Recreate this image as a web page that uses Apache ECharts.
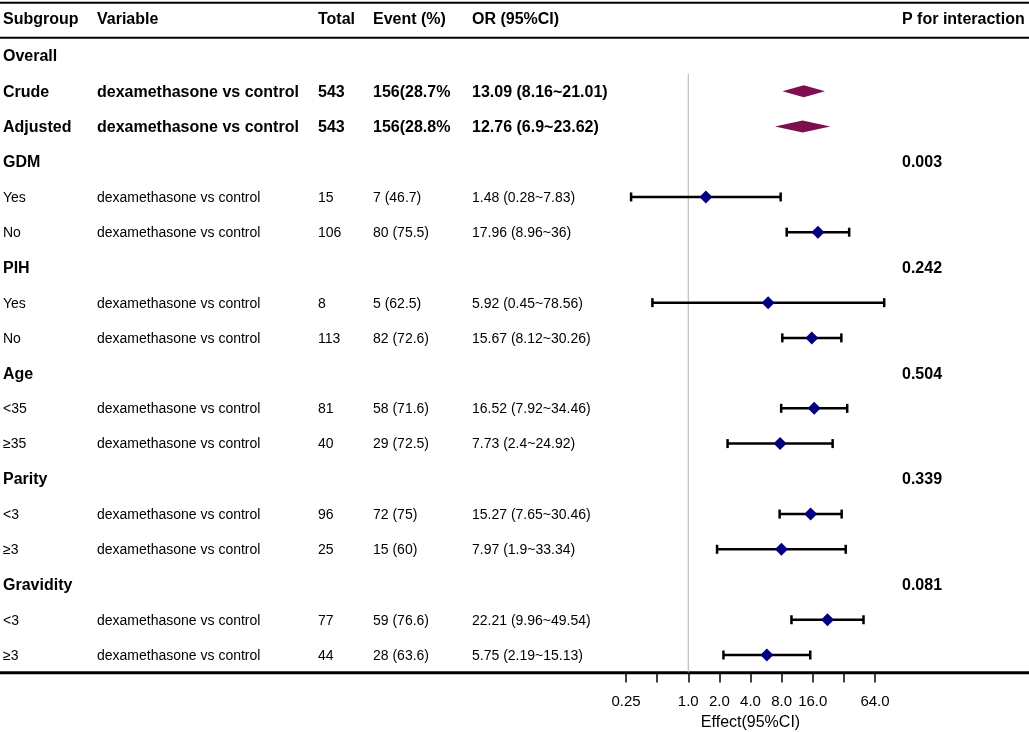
<!DOCTYPE html>
<html>
<head>
    <meta charset="utf-8">
    <title>Forest plot</title>
    <script src="https://cdn.jsdelivr.net/npm/echarts@6/dist/echarts.min.js"></script>
    <style>
        html, body { margin: 0; padding: 0; background: #fff; }
    </style>
</head>
<body>
<div id="main" style="width: 1029px;height:732px;"></div>
<script type="text/javascript">
  // table columns
  var headers = ['Subgroup', 'Variable', 'Total', 'Event (%)', 'OR (95%CI)', 'P for interaction'];
  var subgroups = ['Overall', 'Crude', 'Adjusted', 'GDM', 'Yes', 'No', 'PIH', 'Yes', 'No',
    'Age', '<35', '≥35', 'Parity', '<3', '≥3', 'Gravidity', '<3', '≥3'];
  var rowType = ['title', 'overall', 'overall', 'group', 'sub', 'sub', 'group', 'sub', 'sub',
    'group', 'sub', 'sub', 'group', 'sub', 'sub', 'group', 'sub', 'sub'];
  var dv = 'dexamethasone vs control';
  var variables = ['', dv, dv, '', dv, dv, '', dv, dv, '', dv, dv, '', dv, dv, '', dv, dv];
  var totals = ['', '543', '543', '', '15', '106', '', '8', '113', '', '81', '40', '', '96', '25', '', '77', '44'];
  var events = ['', '156(28.7%', '156(28.8%', '', '7 (46.7)', '80 (75.5)', '', '5 (62.5)', '82 (72.6)',
    '', '58 (71.6)', '29 (72.5)', '', '72 (75)', '15 (60)', '', '59 (76.6)', '28 (63.6)'];
  var orText = ['', '13.09 (8.16~21.01)', '12.76 (6.9~23.62)', '', '1.48 (0.28~7.83)', '17.96 (8.96~36)',
    '', '5.92 (0.45~78.56)', '15.67 (8.12~30.26)', '', '16.52 (7.92~34.46)', '7.73 (2.4~24.92)',
    '', '15.27 (7.65~30.46)', '7.97 (1.9~33.34)', '', '22.21 (9.96~49.54)', '5.75 (2.19~15.13)'];
  var pInter = ['', '', '', '0.003', '', '', '0.242', '', '', '0.504', '', '', '0.339', '', '', '0.081', '', ''];

  // estimates
  var orVals = [null, 13.09, 12.76, null, 1.48, 17.96, null, 5.92, 15.67, null, 16.52, 7.73, null, 15.27, 7.97, null, 22.21, 5.75];
  var lower = [null, 8.16, 6.9, null, 0.28, 8.96, null, 0.45, 8.12, null, 7.92, 2.4, null, 7.65, 1.9, null, 9.96, 2.19];
  var upper = [null, 21.01, 23.62, null, 7.83, 36, null, 78.56, 30.26, null, 34.46, 24.92, null, 30.46, 33.34, null, 49.54, 15.13];

  // x axis
  var xMin = 0.25, xMax = 64, refValue = 1;
  var hiddenTicks = [0.5, 32];

  var FONT = 'Liberation Sans, Arial, sans-serif';
  var colX = [3, 97, 318, 373, 472, 902];

  var myChart = echarts.init(document.getElementById('main'));

  var tableData = subgroups.map(function (s, i) { return [1, i]; });
  var forestData = [];
  orVals.forEach(function (v, i) {
    if (v != null) forestData.push([v, i, lower[i], upper[i]]);
  });

  function renderRow(params, api) {
    var i = params.dataIndex;
    var y = api.coord([1, i])[1] + 1;
    var bold = rowType[i] !== 'sub';
    var cols = [subgroups[i], variables[i], totals[i], events[i], orText[i], pInter[i]];
    var children = [];
    cols.forEach(function (t, c) {
      if (!t) return;
      var isBold = bold || c === 5;
      children.push({
        type: 'text',
        style: {
          x: colX[c], y: y, text: t,
          fill: '#000',
          font: (isBold ? 'bold 16px ' : '14px ') + FONT,
          textAlign: 'left', textVerticalAlign: 'middle'
        }
      });
    });
    return { type: 'group', children: children };
  }

  function renderForest(params, api) {
    var row = api.value(1);
    var p = api.coord([api.value(0), row]);
    var lo = api.coord([api.value(2), row]);
    var hi = api.coord([api.value(3), row]);
    var y = p[1];
    if (rowType[row] === 'overall') {
      var h = 6;
      return {
        type: 'polygon',
        shape: { points: [[lo[0], y], [p[0], y - h], [hi[0], y], [p[0], y + h]] },
        style: { fill: '#7d0f4f' }
      };
    }
    var cap = 4.5, d = 6.5;
    return {
      type: 'group',
      children: [
        { type: 'line', shape: { x1: lo[0], y1: y, x2: hi[0], y2: y }, style: { stroke: '#000', lineWidth: 2.5 } },
        { type: 'line', shape: { x1: lo[0], y1: y - cap, x2: lo[0], y2: y + cap }, style: { stroke: '#000', lineWidth: 2.5 } },
        { type: 'line', shape: { x1: hi[0], y1: y - cap, x2: hi[0], y2: y + cap }, style: { stroke: '#000', lineWidth: 2.5 } },
        {
          type: 'polygon',
          shape: { points: [[p[0] - d, y], [p[0], y - d], [p[0] + d, y], [p[0], y + d]] },
          style: { fill: '#00007f' }
        }
      ]
    };
  }

  function renderRef(params, api) {
    var p = api.coord([api.value(0), api.value(1)]);
    var band = api.size([0, 1])[1];
    var bottom = params.coordSys.y + params.coordSys.height;
    return {
      type: 'line',
      shape: { x1: p[0], y1: p[1] - band / 2, x2: p[0], y2: bottom },
      style: { stroke: '#b3b3b3', lineWidth: 1 }
    };
  }

  var headerGraphics = headers.map(function (h, c) {
    return {
      type: 'text', left: colX[c], top: 12,
      style: { text: h, font: 'bold 16px ' + FONT, fill: '#000' }
    };
  });

  option = {
    backgroundColor: '#fff',
    animation: false,
    grid: { left: 626, right: 154, top: 38.4, bottom: 59.4, outerBoundsMode: 'none', containLabel: false },
    xAxis: {
      type: 'log',
      logBase: 2,
      min: xMin,
      max: xMax,
      splitNumber: 8,
      axisLine: { show: false },
      axisTick: { show: true, length: 10, lineStyle: { color: '#000', width: 1.5 } },
      splitLine: { show: false },
      axisLabel: {
        margin: 22,
        fontSize: 15,
        fontFamily: FONT,
        color: '#000',
        formatter: function (v) {
          var k = Math.round(Math.log(v) / Math.log(2));
          var val = Math.pow(2, k);
          if (hiddenTicks.indexOf(val) >= 0) return '';
          if (val < 1) return String(val);
          return val.toFixed(1);
        }
      },
      name: 'Effect(95%CI)',
      nameLocation: 'middle',
      nameGap: 41,
      nameTextStyle: { fontSize: 16, fontFamily: FONT, color: '#000' }
    },
    yAxis: {
      type: 'category',
      data: subgroups,
      inverse: true,
      axisLine: { show: false },
      axisTick: { show: false },
      axisLabel: { show: false },
      splitLine: { show: false }
    },
    graphic: headerGraphics.concat([
      { type: 'line', shape: { x1: 0, y1: 2.7, x2: 1029, y2: 2.7 }, style: { stroke: '#000', lineWidth: 2 } },
      { type: 'line', shape: { x1: 0, y1: 37.7, x2: 1029, y2: 37.7 }, style: { stroke: '#000', lineWidth: 2 } },
      { type: 'line', shape: { x1: 0, y1: 672.7, x2: 1029, y2: 672.7 }, style: { stroke: '#000', lineWidth: 3 } }
    ]),
    series: [
      {
        type: 'custom',
        name: 'ref',
        clip: false,
        silent: true,
        renderItem: renderRef,
        data: [[refValue, 1]],
        z: 1
      },
      {
        type: 'custom',
        name: 'table',
        clip: false,
        silent: true,
        renderItem: renderRow,
        data: tableData,
        z: 2
      },
      {
        type: 'custom',
        name: 'forest',
        clip: false,
        renderItem: renderForest,
        encode: { x: 0, y: 1 },
        data: forestData,
        z: 3
      }
    ]
  };
  myChart.setOption(option);
</script>
</body>
</html>
